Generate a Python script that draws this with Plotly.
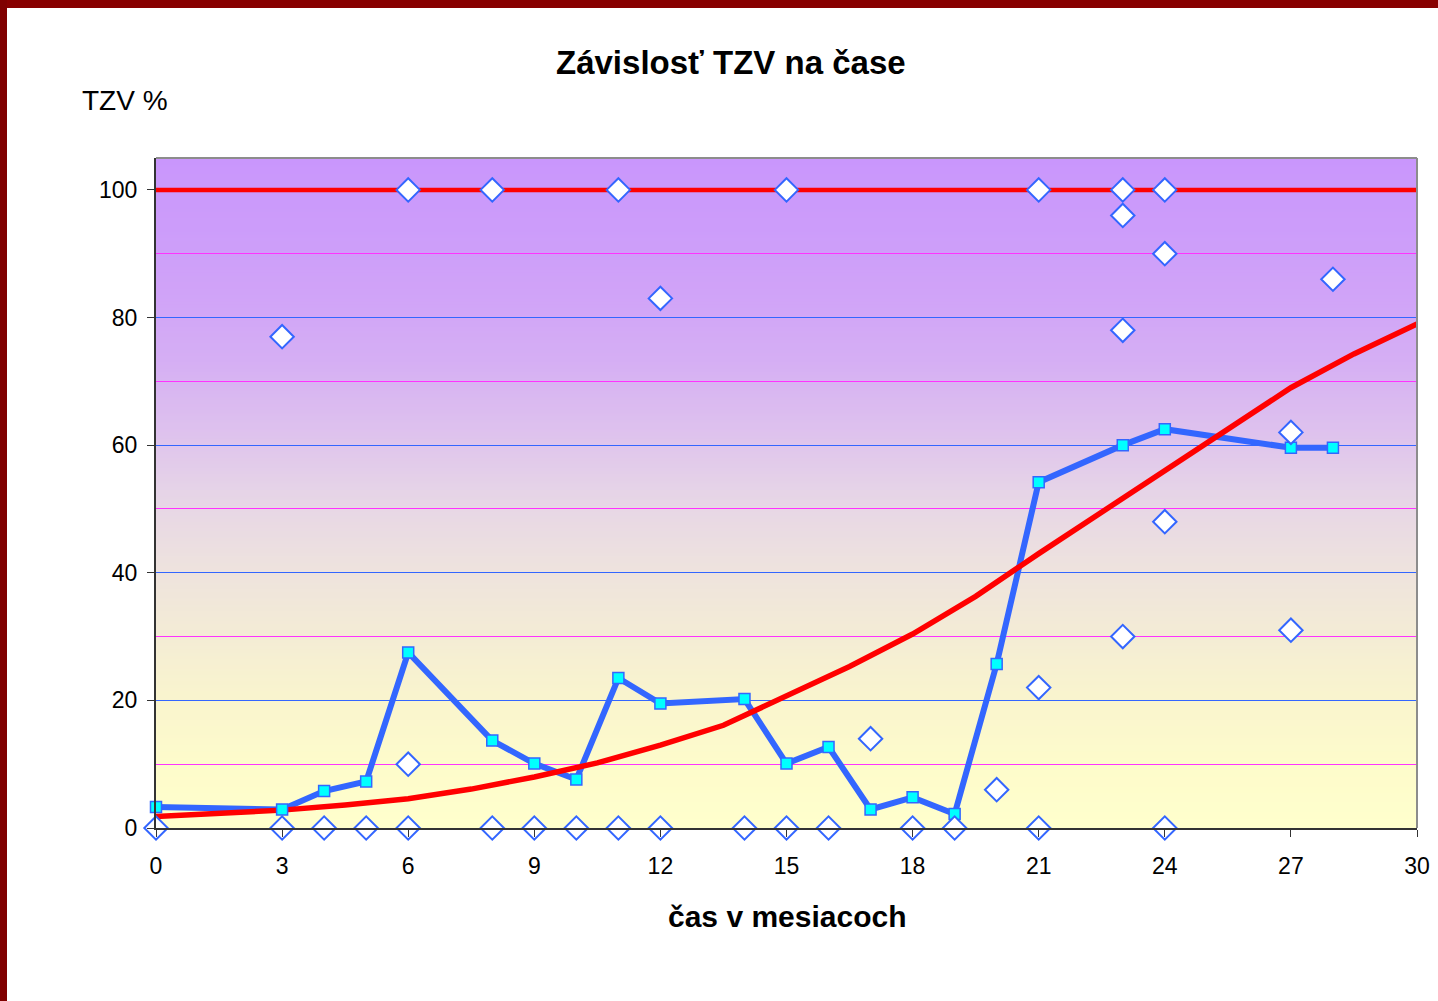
import plotly.graph_objects as go

# ---------------- data ----------------
# individual measurements (diamonds)
pts_x = [0, 3, 3, 4, 5, 6, 6, 6, 8, 8, 9, 10, 11, 11, 12, 12, 14, 15, 15, 16,
         17, 18, 19, 20, 21, 21, 21, 23, 23, 23, 23, 24, 24, 24, 24, 27, 27, 28]
pts_y = [0, 0, 77, 0, 0, 0, 10, 100, 0, 100, 0, 0, 0, 100, 0, 83, 0, 0, 100, 0,
         14, 0, 0, 6, 0, 22, 100, 30, 78, 96, 100, 0, 48, 90, 100, 31, 62, 86]

# line series (squares)
line_x = [0, 3, 4, 5, 6, 8, 9, 10, 11, 12, 14, 15, 16, 17, 18, 19, 20, 21, 23, 24, 27, 28]
line_y = [3.3, 2.9, 5.8, 7.3, 27.5, 13.7, 10.1, 7.6, 23.5, 19.5, 20.2, 10.1, 12.7,
          2.9, 4.8, 2.2, 25.7, 54.2, 60.0, 62.5, 59.6, 59.6]

# trend curve
trend_x = [0, 1.5, 3, 4.5, 6, 7.5, 9, 10.5, 12, 13.5, 15, 16.5, 18, 19.5, 21,
           22.5, 24, 25.5, 27, 28.5, 30]
trend_y = [1.8, 2.2, 2.8, 3.6, 4.6, 6.1, 8.0, 10.2, 13.0, 16.1, 20.6, 25.3, 30.4,
           36.3, 43.0, 49.5, 56.1, 62.7, 69.0, 74.3, 79.0]

# 100 % limit line
limit_x = [0, 30]
limit_y = [100, 100]

x_ticks = [0, 3, 6, 9, 12, 15, 18, 21, 24, 27, 30]
y_ticks = [0, 20, 40, 60, 80, 100]

title_text = "Závislosť TZV na čase"
y_title = "TZV %"
x_title = "čas v mesiacoch"

# ---------------- layout geometry ----------------
W, H = 1438, 1001
L, R, T, B = 156, 21, 158, 173
PW, PH = W - L - R, H - T - B
YMAX = 105


def px_x(p):
    return (p - L) / PW


def px_y(p):
    return (H - B - p) / PH


FONT = "Liberation Sans, Arial, sans-serif"

fig = go.Figure()

fig.add_trace(go.Scatter(x=limit_x, y=limit_y, mode="lines",
                         line=dict(color="#FF0000", width=4.5),
                         hoverinfo="skip", showlegend=False))
fig.add_trace(go.Scatter(x=line_x, y=line_y, mode="lines",
                         line=dict(color="#3366FF", width=6),
                         showlegend=False))
fig.add_trace(go.Scatter(x=trend_x, y=trend_y, mode="lines",
                         line=dict(color="#FF0000", width=5.5),
                         showlegend=False))
fig.add_trace(go.Scatter(x=line_x, y=line_y, mode="markers",
                         marker=dict(symbol="square", size=11, color="#00FFFF",
                                     line=dict(color="#3366FF", width=1.5)),
                         cliponaxis=False, showlegend=False))
fig.add_trace(go.Scatter(x=pts_x, y=pts_y, mode="markers",
                         marker=dict(symbol="diamond", size=18, color="#FFFFFF",
                                     line=dict(color="#3366FF", width=2)),
                         cliponaxis=False, showlegend=False))

# ---------------- background gradient ----------------
stops = [(0.0, "#FFFFCC"), (0.1, "#FDFBCB"), (0.2, "#F9F4CE"), (0.3, "#F3EBD6"),
         (0.4, "#EDE1DF"), (0.5, "#E6D4E7"), (0.6, "#DDC0EE"), (0.7, "#D5AEF4"),
         (0.8, "#D0A3F8"), (0.9, "#CC9CFA"), (1.0, "#C996FC")]


def hx(c):
    return tuple(int(c[i:i + 2], 16) for i in (1, 3, 5))


def col_at(t):
    for (a, ca), (b, cb) in zip(stops[:-1], stops[1:]):
        if a <= t <= b:
            f = (t - a) / (b - a)
            r = [round(u + (v - u) * f) for u, v in zip(hx(ca), hx(cb))]
            return "rgb(%d,%d,%d)" % tuple(r)
    return stops[-1][1]


shapes = []
step = 0.5
n = int(YMAX / step)
for k in range(n):
    y0 = k * step
    y1 = min(YMAX, y0 + 3 * step)
    shapes.append(dict(type="rect", xref="x", yref="y", x0=0, x1=30, y0=y0, y1=y1,
                       fillcolor=col_at((y0 + step / 2) / YMAX), line=dict(width=0),
                       layer="below"))

# top and right border of plot area (gray)
shapes.append(dict(type="line", xref="paper", yref="paper", x0=0, x1=1, y0=1, y1=1,
                   line=dict(color="#8C8C8C", width=2), layer="above"))
shapes.append(dict(type="line", xref="paper", yref="paper", x0=1, x1=1, y0=0, y1=1,
                   line=dict(color="#8C8C8C", width=2), layer="above"))

# dark red page frame
shapes.append(dict(type="rect", xref="paper", yref="paper",
                   x0=px_x(-5), x1=px_x(W + 5), y0=px_y(8), y1=px_y(-5),
                   fillcolor="#880000", line=dict(width=0), layer="above"))
shapes.append(dict(type="rect", xref="paper", yref="paper",
                   x0=px_x(-5), x1=px_x(7), y0=px_y(H + 5), y1=px_y(-5),
                   fillcolor="#800000", line=dict(width=0), layer="above"))

annotations = [
    dict(text="<b>%s</b>" % title_text, xref="paper", yref="paper",
         x=px_x(731), y=px_y(62), xanchor="center", yanchor="middle",
         showarrow=False, font=dict(family=FONT, size=33, color="black")),
    dict(text=y_title, xref="paper", yref="paper",
         x=px_x(80), y=px_y(100), xanchor="left", yanchor="middle",
         showarrow=False, font=dict(family=FONT, size=28, color="black")),
    dict(text="<b>%s</b>" % x_title, xref="paper", yref="paper",
         x=px_x(787), y=px_y(916), xanchor="center", yanchor="middle",
         showarrow=False, font=dict(family=FONT, size=30, color="black")),
]

fig.update_layout(
    width=W, height=H,
    margin=dict(l=L, r=R, t=T, b=B, pad=0),
    paper_bgcolor="white", plot_bgcolor="#E8D8E4",
    showlegend=False,
    shapes=shapes,
    annotations=annotations,
    font=dict(family=FONT, size=23, color="black"),
    xaxis=dict(range=[0, 30], tickmode="array", tickvals=x_ticks,
               ticktext=[str(v) for v in x_ticks], automargin=False,
               showgrid=False, zeroline=False,
               showline=True, linecolor="#333333", linewidth=2,
               ticks="outside", ticklen=7, tickwidth=1, tickcolor="#333333",
               ticklabelstandoff=9,
               tickfont=dict(family=FONT, size=23, color="black")),
    yaxis=dict(range=[0, YMAX], tickmode="array", tickvals=y_ticks,
               ticktext=[str(v) for v in y_ticks], automargin=False,
               showgrid=True, gridcolor="#3366FF", gridwidth=1,
               zeroline=False,
               showline=True, linecolor="#333333", linewidth=2,
               ticks="outside", ticklen=7, tickwidth=1, tickcolor="#333333",
               ticklabelstandoff=5,
               minor=dict(dtick=10, tick0=0, showgrid=True, gridcolor="#FF33FF",
                          gridwidth=1, ticks=""),
               tickfont=dict(family=FONT, size=23, color="black")),
)

fig.write_html("out.html", config={"displayModeBar": False},
               post_script="document.body.style.margin='0';document.body.style.overflow='hidden';")
